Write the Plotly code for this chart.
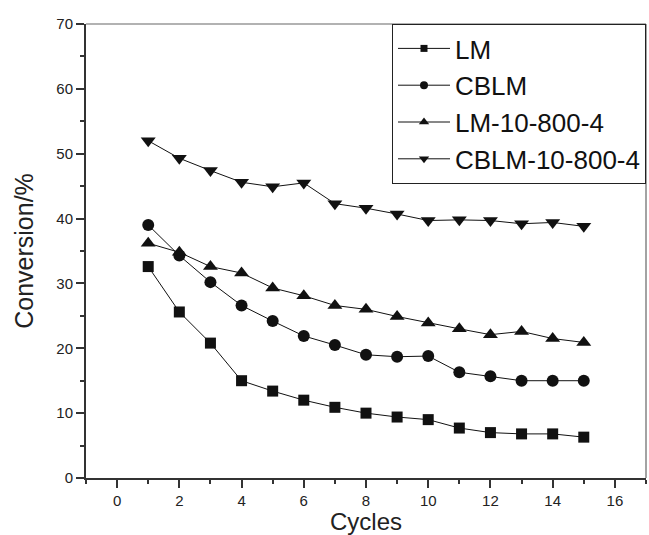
import plotly.graph_objects as go

cycles = list(range(1, 16))
lm = [32.6, 25.6, 20.8, 15.0, 13.4, 12.0, 10.9, 10.0, 9.4, 9.0, 7.7, 7.0, 6.8, 6.8, 6.3]
cblm = [39.0, 34.3, 30.2, 26.6, 24.2, 21.9, 20.5, 19.0, 18.7, 18.8, 16.3, 15.7, 15.0, 15.0, 15.0]
lm_10 = [36.2, 34.8, 32.6, 31.6, 29.3, 28.1, 26.6, 26.0, 24.9, 23.9, 23.0, 22.1, 22.6, 21.5, 20.9]
cblm_10 = [52.0, 49.3, 47.4, 45.6, 44.9, 45.5, 42.3, 41.6, 40.7, 39.7, 39.8, 39.7, 39.2, 39.4, 38.8]

series = [
    ("LM", lm, "square", 11, 7),
    ("CBLM", cblm, "circle", 12, 8),
    ("LM-10-800-4", lm_10, "triangle-up", 13, 9),
    ("CBLM-10-800-4", cblm_10, "triangle-down", 13, 9),
]

fig = go.Figure()
for name, vals, sym, sz, lsz in series:
    fig.add_trace(go.Scatter(
        x=cycles, y=vals, name=name, mode="lines+markers", showlegend=False,
        line=dict(color="#111111", width=1),
        marker=dict(symbol=sym, size=sz, color="#111111"),
    ))
    # legend entry with smaller marker
    fig.add_trace(go.Scatter(
        x=[None], y=[None], name=name, mode="lines+markers", showlegend=True,
        line=dict(color="#111111", width=1),
        marker=dict(symbol=sym, size=lsz, color="#111111"),
    ))

font_family = "Liberation Sans, Arial, sans-serif"
fig.update_layout(
    width=649, height=535,
    margin=dict(l=86, r=3, t=24, b=57),
    paper_bgcolor="white", plot_bgcolor="white",
    font=dict(family=font_family, color="#222222", size=15),
    showlegend=True,
    legend=dict(
        x=1, y=1, xanchor="right", yanchor="top",
        bordercolor="#222222", borderwidth=1, bgcolor="white",
        font=dict(size=26, color="#111111"),
        tracegroupgap=0, itemsizing="trace", itemwidth=52,
    ),
    xaxis=dict(
        range=[-1, 17], tick0=0, dtick=2, automargin=False,
        ticks="outside", ticklen=8, tickwidth=2, tickcolor="#333333",
        showline=True, linecolor="#333333", linewidth=2,
        showgrid=False, zeroline=False,
        minor=dict(dtick=1, tick0=-1, ticks="outside", ticklen=4, tickwidth=1.5, tickcolor="#333333"),
        title=dict(text="Cycles", font=dict(size=24, color="#222222"), standoff=10),
        tickfont=dict(size=15),
    ),
    yaxis=dict(
        range=[0, 70], tick0=0, dtick=10, automargin=False,
        ticks="outside", ticklen=8, tickwidth=2, tickcolor="#333333",
        showline=True, linecolor="#333333", linewidth=2,
        showgrid=False, zeroline=False,
        minor=dict(dtick=5, ticks="outside", ticklen=4, tickwidth=1.5, tickcolor="#333333"),
        title=dict(text="Conversion/%", font=dict(size=25, color="#222222"), standoff=16),
        tickfont=dict(size=15),
    ),
)
# thin grey box on top and right
fig.add_shape(type="line", xref="paper", yref="paper", x0=0, x1=1, y0=1, y1=1,
              line=dict(color="#666666", width=1.2))
fig.add_shape(type="line", xref="paper", yref="paper", x0=1, x1=1, y0=0, y1=1,
              line=dict(color="#666666", width=1.2))

fig.write_html("out.html")
